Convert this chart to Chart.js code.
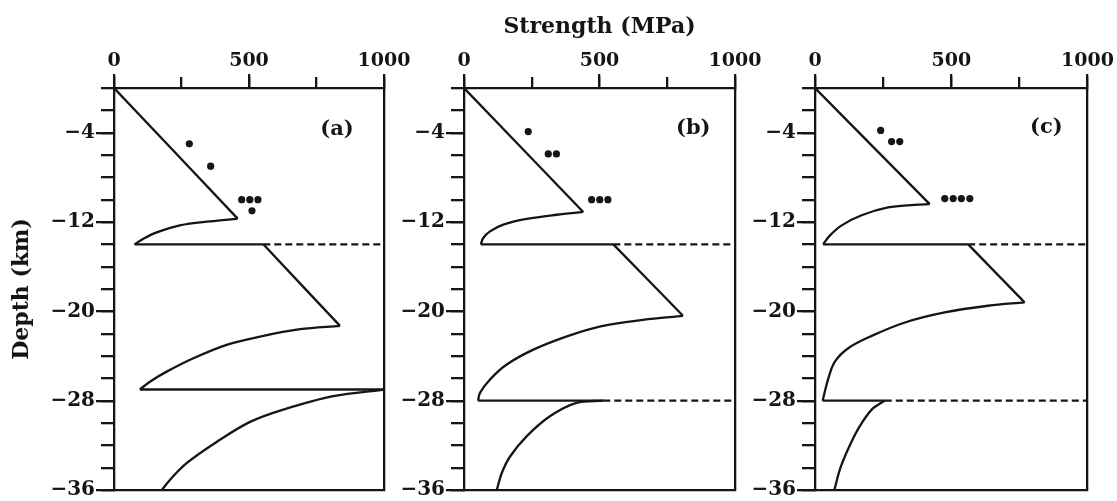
<!DOCTYPE html>
<html lang="en">
<head>
<meta charset="UTF-8">
<title>Strength profiles</title>
<script src="https://cdn.jsdelivr.net/npm/chart.js"></script>
<style>
    body { margin: 0; background: #fff; }
    #wrap { position: relative; width: 1117px; height: 501px; }
    #wrap canvas { position: absolute; left: 0; top: 0; }
</style>
</head>
<body>
<div id="wrap">
    <canvas id="panelA" width="1117" height="501"></canvas>
    <canvas id="panelB" width="1117" height="501"></canvas>
    <canvas id="panelC" width="1117" height="501"></canvas>
</div>
<script>
    // axis labels
    const strengthTicks = [0, 500, 1000];
    const depthTicks = [-4, -12, -20, -28, -36];

    // solid strength profile, in pieces: [strength MPa, depth km]
    const profileA = [
        [[0, 0], [458, -11.7]],
        [[458, -11.7], [356, -11.94], [244, -12.3], [158, -12.93], [109, -13.5], [76, -14]],
        [[76, -14], [553, -14]],
        [[553, -14], [837, -21.3]],
        [[837, -21.3], [689, -21.6], [541, -22.26], [417, -23.0], [294, -24.2], [195, -25.4], [133, -26.3], [96, -27]],
        [[96, -27], [1000, -27]],
        [[1000, -27], [812, -27.6], [627, -28.8], [504, -29.9], [380, -31.7], [269, -33.6], [207, -35.1], [177, -36]]
    ];
    const profileB = [
        [[0, 0], [440, -11.1]],
        [[440, -11.1], [342, -11.35], [231, -11.73], [145, -12.24], [96, -12.84], [71, -13.43], [62, -14]],
        [[62, -14], [551, -14]],
        [[551, -14], [808, -20.4]],
        [[808, -20.4], [660, -20.76], [500, -21.36], [377, -22.26], [254, -23.45], [155, -24.8], [96, -26.1], [59, -27.3], [52, -28]],
        [[52, -28], [514, -28]],
        [[514, -28], [415, -28.2], [317, -29.4], [231, -31.2], [170, -33.0], [139, -34.5], [121, -36]]
    ];
    const profileC = [
        [[0, 0], [421, -10.4]],
        [[421, -10.4], [366, -10.47], [268, -10.7], [171, -11.4], [98, -12.3], [55, -13.2], [30, -14]],
        [[30, -14], [562, -14]],
        [[562, -14], [769, -19.2]],
        [[769, -19.2], [635, -19.5], [476, -20.1], [330, -21.0], [208, -22.2], [122, -23.3], [73, -24.5], [49, -26.0], [28, -28]],
        [[28, -28], [256, -28]],
        [[256, -28], [208, -28.8], [159, -30.5], [122, -32.3], [92, -34.1], [71, -36]]
    ];

    // dashed continuations
    const dashedA = [[[553, -14], [1000, -14]]];
    const dashedB = [[[551, -14], [1000, -14]], [[514, -28], [1000, -28]]];
    const dashedC = [[[562, -14], [1000, -14]], [[256, -28], [1000, -28]]];

    // measured points
    const dotsA = [[279, -5], [358, -7], [473, -10], [503, -10], [533, -10], [511, -11]];
    const dotsB = [[237, -3.9], [311, -5.9], [341, -5.9], [471, -10], [501, -10], [531, -10]];
    const dotsC = [[241, -3.8], [281, -4.8], [311, -4.8], [476, -9.9], [507, -9.9], [537, -9.9], [568, -9.9]];

    const ink = '#151515';
    const serif = 'DejaVu Serif';

    const letterPlugin = {
        id: 'panelLetter',
        afterDatasetsDraw(chart, args, opts) {
            const { ctx, scales } = chart;
            ctx.save();
            ctx.font = 'bold 21px "DejaVu Serif"';
            ctx.fillStyle = ink;
            ctx.textAlign = 'center';
            ctx.textBaseline = 'middle';
            ctx.fillText(opts.text, scales.x.getPixelForValue(opts.at[0]), scales.y.getPixelForValue(opts.at[1]));
            ctx.restore();
        }
    };

    const toXY = pts => pts.map(([x, y]) => ({ x, y }));

    function makePanel(id, profile, dashed, dots, letter, letterAt, left, right, yTitle, xTitle) {
        const datasets = [];
        profile.forEach(piece => datasets.push({
            data: toXY(piece), showLine: true, borderColor: ink, borderWidth: 2.3,
            pointRadius: 0, tension: 0.35, xAxisID: 'x', yAxisID: 'y'
        }));
        dashed.forEach(piece => datasets.push({
            data: toXY(piece), showLine: true, borderColor: ink, borderWidth: 2.3,
            borderDash: [7, 4], pointRadius: 0, xAxisID: 'x', yAxisID: 'y'
        }));
        datasets.push({
            data: toXY(dots), showLine: false, pointRadius: 3.6, pointBorderWidth: 0,
            pointBackgroundColor: ink, xAxisID: 'x', yAxisID: 'y'
        });

        const xTickFont = { family: serif, size: 19, weight: 'bold', lineHeight: 1 };
        const yTickFont = { family: serif, size: 20, weight: 'bold', lineHeight: 1 };
        const titleFont = { family: serif, size: 22, weight: 'bold' };
        const hiddenGrid = { drawOnChartArea: false, drawTicks: false };
        const frame = { color: ink, width: 2.3 };

        new Chart(document.getElementById(id), {
            type: 'scatter',
            data: { datasets },
            plugins: [letterPlugin],
            options: {
                responsive: false,
                animation: false,
                devicePixelRatio: 1,
                layout: { padding: { left: left - 114, right: 1117 - right, top: 0, bottom: 11 } },
                plugins: {
                    legend: { display: false },
                    tooltip: { enabled: false },
                    panelLetter: { text: letter, at: letterAt }
                },
                scales: {
                    // outer top axis: labelled ticks + title
                    x: {
                        axis: 'x', type: 'linear', position: 'top', weight: 1, min: 0, max: 1000,
                        afterBuildTicks: s => { s.ticks = strengthTicks.map(v => ({ value: v })); },
                        ticks: { font: xTickFont, color: ink, padding: 3, maxRotation: 0, autoSkip: false, callback: v => String(v) },
                        grid: { drawOnChartArea: false, tickLength: 14, lineWidth: 2.3, color: ink },
                        border: frame,
                        title: { display: xTitle, text: 'Strength (MPa)', font: titleFont, color: ink, padding: { top: 14, bottom: 0 } },
                        afterFit: s => { s.height = 88; }
                    },
                    // inner top axis: minor ticks only
                    xMinor: {
                        axis: 'x', type: 'linear', position: 'top', weight: 0, min: 0, max: 1000,
                        ticks: { stepSize: 250, display: false },
                        grid: { drawOnChartArea: false, tickLength: 11, lineWidth: 2.3, color: ink },
                        border: { display: false },
                        afterFit: s => { s.height = 0; }
                    },
                    x2: {
                        axis: 'x', type: 'linear', position: 'bottom', min: 0, max: 1000,
                        ticks: { display: false }, grid: hiddenGrid, border: frame,
                        afterFit: s => { s.height = 0; }
                    },
                    y: {
                        axis: 'y', type: 'linear', position: 'left', weight: 1, min: -36, max: 0,
                        afterBuildTicks: s => { s.ticks = depthTicks.map(v => ({ value: v })); },
                        ticks: { font: yTickFont, color: ink, padding: 1, autoSkip: false, callback: v => String(v).replace('-', '\u2212') },
                        grid: { drawOnChartArea: false, tickLength: 18, lineWidth: 2.3, color: ink },
                        border: frame,
                        title: { display: yTitle, text: 'Depth (km)', font: titleFont, color: ink, padding: { top: 9, bottom: 0 } },
                        afterFit: s => { s.width = 114; }
                    },
                    yMinor: {
                        axis: 'y', type: 'linear', position: 'left', weight: 0, min: -36, max: 0,
                        ticks: { stepSize: 2, display: false, autoSkip: false },
                        grid: { drawOnChartArea: false, tickLength: 13, lineWidth: 2.3, color: ink },
                        border: { display: false },
                        afterFit: s => { s.width = 0; }
                    },
                    y2: {
                        axis: 'y', type: 'linear', position: 'right', min: -36, max: 0,
                        ticks: { display: false }, grid: hiddenGrid, border: frame,
                        afterFit: s => { s.width = 0; }
                    }
                }
            }
        });
    }

    makePanel('panelA', profileA, dashedA, dotsA, '(a)', [826, -3.7], 114, 384, true, false);
    makePanel('panelB', profileB, dashedB, dotsB, '(b)', [846, -3.6], 464, 735, false, true);
    makePanel('panelC', profileC, dashedC, dotsC, '(c)', [849, -3.5], 815, 1088, false, false);
</script>
</body>
</html>
